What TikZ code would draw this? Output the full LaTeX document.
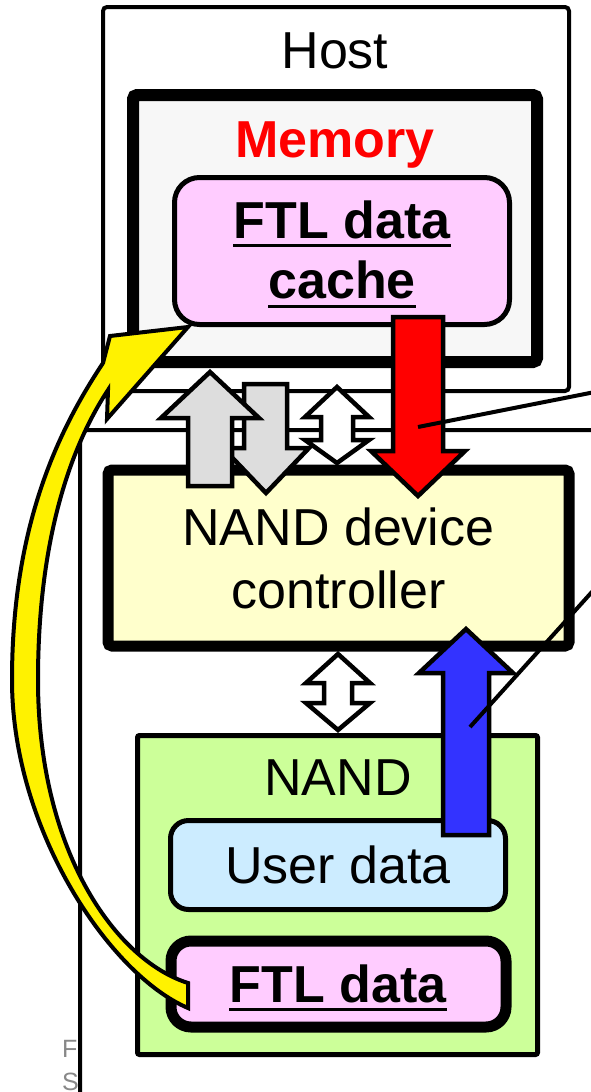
\documentclass[tikz,border=0pt]{standalone}
\usepackage{fontspec}
\setmainfont{Liberation Sans}
\definecolor{memgray}{HTML}{F7F7F7}
\definecolor{ftlpink}{HTML}{FFCCFF}
\definecolor{ctrlyellow}{HTML}{FFFFCC}
\definecolor{nandgreen}{HTML}{CCFF99}
\definecolor{userblue}{HTML}{CCECFF}
\definecolor{arrowgray}{HTML}{DDDDDD}
\definecolor{capgray}{HTML}{888888}
\definecolor{flowblue}{HTML}{3333FF}
\begin{document}
\begin{tikzpicture}[x=1pt,y=-1pt,
  box/.style={draw=black, outer sep=0pt, inner sep=0pt},
  lbl/.style={inner sep=0pt, font=\fontsize{52}{62}\selectfont},
  boldlbl/.style={inner sep=0pt, font=\fontsize{52}{62}\selectfont\bfseries},
  blockarrow/.style={draw=black, line width=4.5pt, line join=miter},
  wire/.style={draw=black, line width=4pt},
  uline/.style={draw=black, line width=3.8pt}
]
\useasboundingbox (0,0) rectangle (591,1092);
\clip (0,0) rectangle (591,1092);
\fill[white] (0,0) rectangle (591,1092);

% caption letters, partly hidden behind the device frame
\node[anchor=base west, inner sep=0pt, text=capgray, font=\fontsize{25}{30}\selectfont] (capF) at (62,1057) {F};
\node[anchor=base west, inner sep=0pt, text=capgray, font=\fontsize{25}{30}\selectfont] (capS) at (62,1090) {S};

% frames
\node[box, line width=4pt, rounded corners=6pt, fill=white, anchor=north west,
      minimum width=600pt, minimum height=720pt] (device) at (80,430) {};
\node[box, line width=4pt, rounded corners=4pt, fill=white,
      minimum width=466pt, minimum height=384pt] (host) at (336,199) {};
\node[box, line width=12pt, rounded corners=4pt, fill=memgray,
      minimum width=404pt, minimum height=267pt] (memory) at (335,228.5) {};
\node[box, line width=5pt, rounded corners=25pt, fill=ftlpink,
      minimum width=335pt, minimum height=147pt] (cache) at (342,251) {};
\node[box, line width=11pt, rounded corners=4pt, fill=ctrlyellow,
      minimum width=461pt, minimum height=176pt] (ctrl) at (338.5,558) {};
\node[box, line width=5pt, rounded corners=2pt, fill=nandgreen,
      minimum width=400pt, minimum height=319pt] (nand) at (337.5,895) {};
\node[box, line width=5pt, rounded corners=18pt, fill=userblue,
      minimum width=335pt, minimum height=89pt] (user) at (338,865) {};
\node[box, line width=11pt, rounded corners=20pt, fill=ftlpink,
      minimum width=335pt, minimum height=86pt] (ftl) at (338.5,984) {};

% labels
\node[lbl, anchor=base] (hostlbl) at (335,68) {Host};
\node[boldlbl, anchor=base, text=red] (memlbl) at (335,157) {Memory};
\node[boldlbl, anchor=base] (cachelblA) at (342,238) {FTL data};
\node[boldlbl, anchor=base] (cachelblB) at (342,298) {cache};
\draw[uline] ([yshift=-7.5pt]cachelblA.base west) -- ([yshift=-7.5pt]cachelblA.base east);
\draw[uline] ([yshift=-8.5pt]cachelblB.base west) -- ([yshift=-8.5pt]cachelblB.base east);
\node[lbl, anchor=base] (ctrllblA) at (338.5,545) {NAND device};
\node[lbl, anchor=base] (ctrllblB) at (338.5,608) {controller};
\node[lbl, anchor=base] (nandlbl) at (338,795) {NAND};
\node[lbl, anchor=base] (userlbl) at (338,883) {User data};
\node[boldlbl, anchor=base] (ftllbl) at (338,1002) {FTL data};
\draw[uline] ([yshift=-7.5pt]ftllbl.base west) -- ([yshift=-7.5pt]ftllbl.base east);

% host <-> controller traffic
\draw[blockarrow, fill=arrowgray] (244,384) -- (287,384) -- (287,448) -- (309,448)
  -- (266,493) -- (223,448) -- (244,448) -- cycle;
\draw[blockarrow, fill=arrowgray] (210,372) -- (259,418) -- (232,418) -- (232,486)
  -- (188,486) -- (188,418) -- (161,418) -- cycle;
\draw[blockarrow, fill=white] (337,387) -- (369,417) -- (353,417) -- (353,440)
  -- (369,440) -- (337,463) -- (305,440) -- (321,440) -- (321,417) -- (305,417) -- cycle;
\draw[blockarrow, fill=red] (393,317) -- (443,317) -- (443,451) -- (465,451)
  -- (418,496) -- (371,451) -- (393,451) -- cycle;

% controller <-> NAND traffic
\draw[blockarrow, fill=white] (338,654) -- (370,683) -- (352,683) -- (352,703)
  -- (370,703) -- (338,730) -- (306,703) -- (324,703) -- (324,683) -- (306,683) -- cycle;
\draw[blockarrow, fill=flowblue] (466,629) -- (513,673) -- (489,673) -- (489,835)
  -- (443,835) -- (443,673) -- (419,673) -- cycle;

% callout leaders
\coordinate (redpin) at (418,427);
\coordinate (calloutA) at (600,391);
\coordinate (bluepin) at (470,727);
\coordinate (calloutB) at (600,583);
\draw[wire] (redpin) -- (calloutA);
\draw[wire] (bluepin) -- (calloutB);

% FTL data loaded from NAND into the host cache
\draw[line width=4pt, fill=yellow, line join=miter]
  (103,363) .. controls (62,425) and (12,520) .. (12,680)
  .. controls (12,830) and (110,975) .. (188,1008)
  -- (188,983)
  .. controls (115,960) and (38,850) .. (38,680)
  .. controls (38,530) and (75,440) .. (108,390)
  -- (107,419) -- (188,327) -- (110,336) -- cycle;
\end{tikzpicture}
\end{document}
